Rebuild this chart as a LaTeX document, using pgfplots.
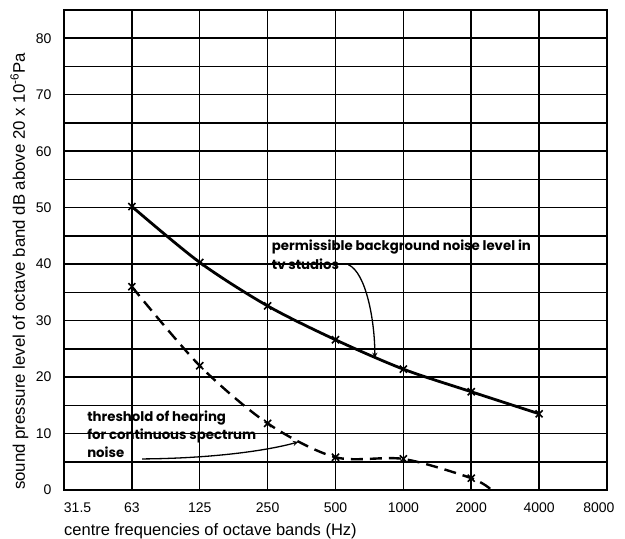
\documentclass[border=0pt]{standalone}
\usepackage{pgfplots}
\pgfplotsset{compat=1.18}
\usepackage{fontspec}
\setmainfont{Liberation Sans}
\newfontfamily\hand{Poppins}
\begin{document}
\begin{tikzpicture}
\begin{axis}[
  scale only axis, width=543pt, height=480pt,
  xmin=0, xmax=8, ymin=0, ymax=85,
  xtick={1,...,7}, xticklabels={63,125,250,500,1000,2000,4000},
  extra x ticks={0.2,7.88}, extra x tick labels={31.5,8000},
  extra x tick style={grid=none},
  ytick={0,10,...,80}, minor ytick={5,15,...,75},
  grid=both,
  major grid style={black, line width=1.5pt},
  minor grid style={black, line width=1.5pt},
  major tick length=0pt, minor tick length=0pt,
  axis line style={black, line width=1.8pt},
  /pgf/number format/assume math mode=true,
  tick label style={font=\fontsize{14}{14}\selectfont},
  xticklabel style={anchor=base, yshift=-22pt},
  yticklabel style={anchor=east, xshift=-9pt},
  xlabel={centre frequencies of octave bands (Hz)},
  xlabel style={at={(axis description cs:0,-0.094)}, anchor=base west, inner sep=0pt, font=\fontsize{16.5}{16.5}\selectfont},
  ylabel={sound pressure level of octave band dB above 20 x 10\textsuperscript{-6}Pa},
  ylabel style={at={(axis description cs:-0.072,0)}, anchor=base west, inner sep=0pt, font=\fontsize{16.8}{16.8}\selectfont},
  clip=true,
]
\addplot[black, line width=2.8pt, smooth, mark=x, mark size=5pt, mark options={solid, line width=1.6pt}]
  coordinates {(1,50.2) (2,40.3) (3,32.6) (4,26.6) (5,21.4) (6,17.4) (7,13.5)};
\addplot[black, line width=2.4pt, smooth, dash pattern=on 12pt off 7pt, mark=x, mark size=5pt, mark options={solid, line width=1.6pt}, mark indices={1,2,3,4,5,6}]
  coordinates {(1,36.0) (2,22.0) (3,11.8) (4,5.8) (5,5.5) (6,2.1) (6.3,0)};
\coordinate (O) at (rel axis cs:0,0);
\node[anchor=base west, align=left, inner sep=0pt, font=\hand\bfseries\fontsize{13.3}{18.5}\selectfont] at (axis cs:3.06,39.1) {permissible background noise level in\\tv studios};
\node[anchor=base west, align=left, inner sep=0pt, font=\hand\bfseries\fontsize{13.3}{18}\selectfont] at (axis cs:0.34,5.67) {threshold of hearing\\for continuous spectrum\\noise};
\draw[-stealth, line width=1.3pt] (axis cs:4.19,39.9) .. controls (axis cs:4.45,38.5) and (axis cs:4.58,30) .. (axis cs:4.58,23.4);
\draw[-stealth, line width=1.3pt] (axis cs:1.15,5.5) .. controls (axis cs:2.2,5.6) and (axis cs:3,7) .. (axis cs:3.45,8.5);
\end{axis}
\path (O) ++(-64pt,-49pt) rectangle ++(625pt,539pt);
\end{tikzpicture}
\end{document}
